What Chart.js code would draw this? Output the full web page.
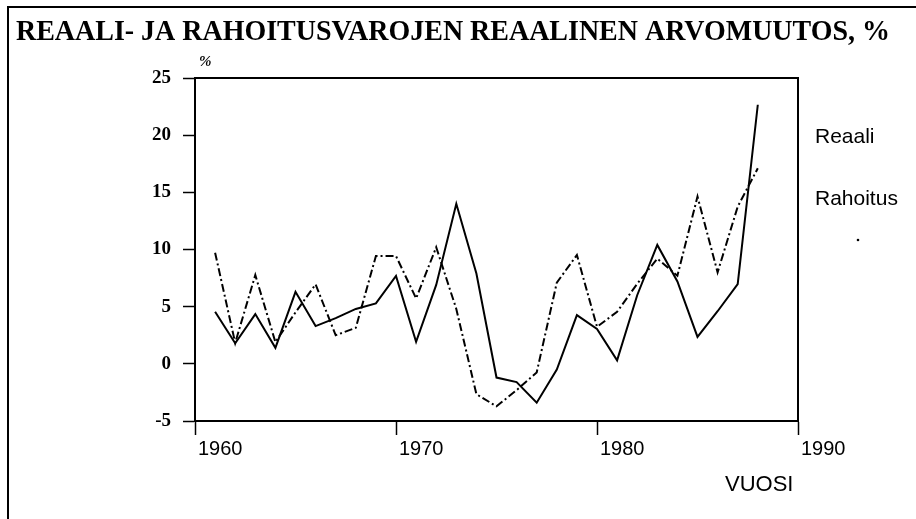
<!DOCTYPE html>
<html>
<head>
<meta charset="utf-8">
<script src="https://cdn.jsdelivr.net/npm/chart.js@4"></script>
<style>
  body { margin: 0; background: #fff; }
  #wrap { position: relative; width: 916px; height: 519px; }
</style>
</head>
<body>
<div id="wrap"><canvas id="arvo-chart" width="916" height="519"></canvas></div>
<script>
// vuodet ja sarjat (luettu kuvasta)
const years = [1961, 1962, 1963, 1964, 1965, 1966, 1967, 1968, 1969, 1970,
               1971, 1972, 1973, 1974, 1975, 1976, 1977, 1978, 1979, 1980,
               1981, 1982, 1983, 1984, 1985, 1986, 1987, 1988];
const reaali = [4.55, 1.8, 4.35, 1.4, 6.3, 3.3, 4.0, 4.8, 5.28, 7.68,
                1.92, 6.9, 14.0, 7.9, -1.2, -1.6, -3.4, -0.5, 4.26, 3.05,
                0.3, 6.0, 10.4, 7.2, 2.36, 4.6, 6.98, 22.66];
const rahoitus = [9.72, 1.83, 7.77, 1.9, 4.5, 6.95, 2.5, 3.15, 9.43, 9.43,
                  5.72, 10.2, 4.8, -2.65, -3.72, -2.3, -0.75, 7.1, 9.52, 3.24,
                  4.55, 7.0, 9.2, 7.7, 14.63, 8.0, 13.75, 17.1];
const yTicks = [-5, 0, 5, 10, 15, 20, 25];
const xTicks = [1960, 1970, 1980, 1990];

const titleText = 'REAALI- JA RAHOITUSVAROJEN REAALINEN ARVOMUUTOS, %';
const seriesNames = ['Reaali', 'Rahoitus'];

const toPoints = vals => vals.map((v, i) => ({x: years[i], y: v}));

// otsikko, selitteet ja kehys piirretään itse
const extras = {
    id: 'extras',
    afterDraw(chart) {
        const ctx = chart.ctx;
        const area = chart.chartArea;
        ctx.save();
        ctx.strokeStyle = '#000';
        // kuvan kehys
        ctx.lineWidth = 2;
        ctx.beginPath();
        ctx.moveTo(8, 519);
        ctx.lineTo(8, 7);
        ctx.lineTo(916, 7);
        ctx.stroke();
        // kuvaajan laatikon ylä- ja oikea reuna
        ctx.lineWidth = 2;
        ctx.beginPath();
        ctx.moveTo(area.left, area.top);
        ctx.lineTo(area.right, area.top);
        ctx.lineTo(area.right, area.bottom);
        ctx.stroke();

        ctx.fillStyle = '#000';
        ctx.textBaseline = 'alphabetic';
        ctx.font = 'bold 30px "Liberation Serif", "Times New Roman", serif';
        ctx.fillText(titleText, 16, 40, 874);

        ctx.font = 'italic bold 15px "Liberation Serif", serif';
        ctx.fillText('%', 199, 66);

        ctx.font = '21px "Liberation Sans", Arial, sans-serif';
        ctx.fillText(seriesNames[0], 815, 143);
        ctx.fillText(seriesNames[1], 815, 205);
        ctx.font = '22px "Liberation Sans", Arial, sans-serif';
        ctx.fillText('VUOSI', 725, 491);

        ctx.beginPath();
        ctx.arc(858, 240, 1.3, 0, Math.PI * 2);
        ctx.fill();
        ctx.restore();
    }
};

const data = {
    datasets: [{
        label: seriesNames[0],
        data: toPoints(reaali),
        borderColor: '#000',
        borderWidth: 2,
        pointRadius: 0,
        tension: 0
    }, {
        label: seriesNames[1],
        data: toPoints(rahoitus),
        borderColor: '#000',
        borderWidth: 2,
        borderDash: [8, 3, 2, 3],
        pointRadius: 0,
        tension: 0
    }]
};

const config = {
    type: 'line',
    data: data,
    options: {
        responsive: false,
        animation: false,
        events: [],
        layout: { padding: { left: 0, top: 78, right: 118, bottom: 0 } },
        plugins: { legend: { display: false }, tooltip: { enabled: false } },
        scales: {
            x: {
                type: 'linear',
                min: xTicks[0],
                max: xTicks[xTicks.length - 1],
                afterFit: scale => { scale.height = 98; },
                afterBuildTicks: scale => { scale.ticks = xTicks.map(v => ({value: v})); },
                border: { display: true, color: '#000', width: 2 },
                grid: { display: true, drawOnChartArea: false, drawTicks: true,
                        tickLength: 14, tickColor: '#000', tickWidth: 1.5 },
                ticks: {
                    align: 'start',
                    labelOffset: 3,
                    padding: 2,
                    maxRotation: 0,
                    color: '#000',
                    callback: value => String(value),
                    font: { family: '"Liberation Sans", Arial, sans-serif', size: 20 }
                }
            },
            y: {
                min: yTicks[0],
                max: yTicks[yTicks.length - 1],
                afterFit: scale => { scale.width = 195; },
                afterBuildTicks: scale => { scale.ticks = yTicks.map(v => ({value: v})); },
                border: { display: true, color: '#000', width: 2 },
                grid: { display: true, drawOnChartArea: false, drawTicks: true,
                        tickLength: 12, tickColor: '#000', tickWidth: 1.5 },
                ticks: {
                    padding: 12,
                    color: '#000',
                    font: { family: '"Liberation Serif", serif', size: 19, weight: 'bold' }
                }
            }
        }
    },
    plugins: [extras]
};

const myChart = new Chart(document.getElementById('arvo-chart'), config);
</script>
</body>
</html>
